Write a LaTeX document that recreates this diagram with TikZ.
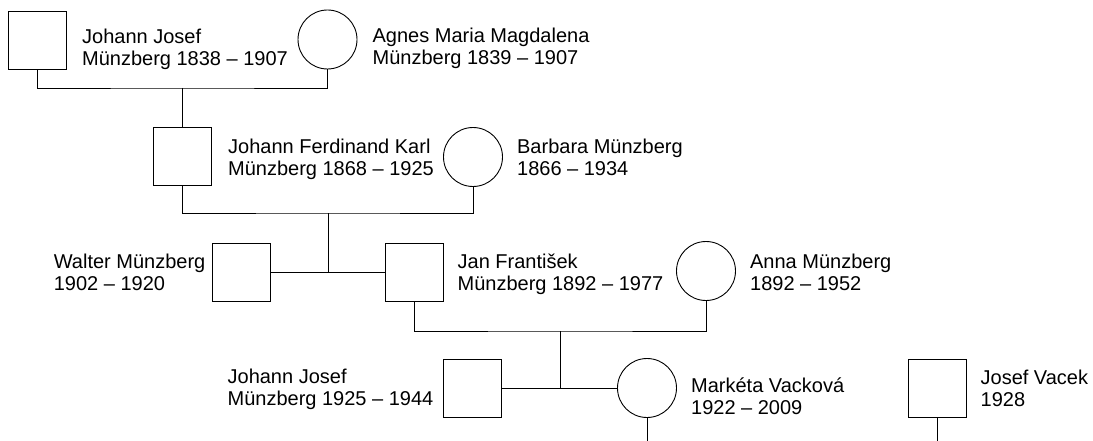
\documentclass[tikz,border=0pt]{standalone}
\usepackage{fontspec}
\setmainfont{Liberation Sans}
\usetikzlibrary{positioning}

\begin{document}
\begin{tikzpicture}[x=1pt, y=-1pt,
    male/.style={rectangle, draw, minimum size=58pt, inner sep=0pt, line width=0.9pt},
    female/.style={circle, draw, minimum size=59pt, inner sep=0pt, line width=0.9pt},
    info/.style={align=left, inner sep=0pt, font=\fontsize{20}{22}\selectfont},
    link/.style={line width=0.9pt}
]
    \useasboundingbox (0,0) rectangle (1093,441);
    \node[male] (jj1) at (37.5,40) {};
    \node[info, right=15pt of jj1, yshift=-9pt] (jj1t) {Johann Josef\\M\"unzberg 1838 – 1907};
    \node[female] (agnes) at (327.5,39.5) {};
    \node[info, right=15pt of agnes, yshift=-9pt] (agnest) {Agnes Maria Magdalena\\M\"unzberg 1839 – 1907};
    \node[male] (jfk) at (182.5,156) {};
    \node[info, right=16pt of jfk, yshift=-3pt] (jfkt) {Johann Ferdinand Karl\\M\"unzberg 1868 – 1925};
    \node[female] (barbara) at (473,157) {};
    \node[info, right=14pt of barbara] (barbarat) {Barbara M\"unzberg\\1866 – 1934};
    \node[male] (walter) at (241,272) {};
    \node[info, left=6pt of walter] (waltert) {Walter M\"unzberg\\1902 – 1920};
    \node[male] (jan) at (414,272) {};
    \node[info, right=14pt of jan, yshift=-2.5pt] (jant) {Jan František\\M\"unzberg 1892 – 1977};
    \node[female] (anna) at (706,271) {};
    \node[info, right=14pt of anna, yshift=-1.5pt] (annat) {Anna M\"unzberg\\1892 – 1952};
    \node[male] (jj2) at (472,388) {};
    \node[info, left=9pt of jj2, yshift=-1.5pt] (jj2t) {Johann Josef\\M\"unzberg 1925 – 1944};
    \node[female] (marketa) at (647,388) {};
    \node[info, right=14pt of marketa, yshift=-8pt] (marketat) {Markéta Vacková\\1922 – 2009};
    \node[male] (josef) at (937,388) {};
    \node[info, right=14pt of josef] (joseft) {Josef Vacek\\1928};

    \coordinate (m1) at (182.5,88);
    \coordinate (m2) at (328,213);
    \coordinate (m3) at (560,331);
    \coordinate (e1) at (647,441);
    \coordinate (e2) at (937,441);
    \draw[link] (jj1.south) |- (m1) -| (agnes.south);
    \draw[link] (m1) -- (jfk.north);
    \draw[link] (jfk.south) |- (m2) -| (barbara.south);
    \draw[link] (walter.east) -- (jan.west);
    \draw[link] (m2) -- (m2 |- walter.east);
    \draw[link] (jan.south) |- (m3) -| (anna.south);
    \draw[link] (jj2.east) -- (marketa.west);
    \draw[link] (m3) -- (m3 |- jj2.east);
    \draw[link] (marketa.south) -- (e1);
    \draw[link] (josef.south) -- (e2);
\end{tikzpicture}
\end{document}
